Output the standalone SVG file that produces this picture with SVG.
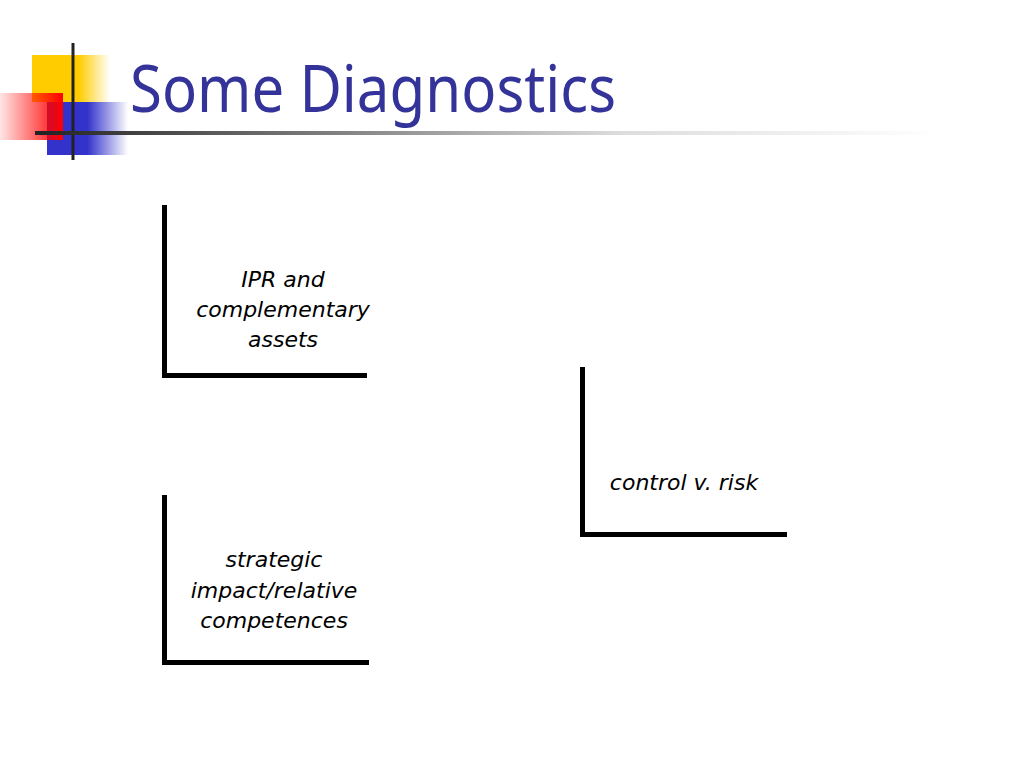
<svg xmlns="http://www.w3.org/2000/svg" width="1024" height="768" viewBox="0 0 1024 768">
<defs>
<linearGradient id="gY" x1="0" y1="0" x2="1" y2="0">
<stop offset="0" stop-color="#FFCC00"/><stop offset="0.6" stop-color="#FFCC00"/><stop offset="1" stop-color="#FFCC00" stop-opacity="0"/>
</linearGradient>
<linearGradient id="gB" x1="0" y1="0" x2="1" y2="0">
<stop offset="0" stop-color="#3333CC"/><stop offset="0.5" stop-color="#3333CC"/><stop offset="1" stop-color="#3333CC" stop-opacity="0"/>
</linearGradient>
<linearGradient id="gR" x1="0" y1="0" x2="1" y2="0">
<stop offset="0" stop-color="#FF0000" stop-opacity="0.1"/><stop offset="1" stop-color="#FF0000"/>
</linearGradient>
<linearGradient id="gL" gradientUnits="userSpaceOnUse" x1="35" y1="0" x2="940" y2="0">
<stop offset="0" stop-color="#222222"/><stop offset="0.3" stop-color="#777777"/><stop offset="0.65" stop-color="#DDDDDD"/><stop offset="1" stop-color="#FFFFFF"/>
</linearGradient>
<style>
.bar{stroke:#000;stroke-width:5;fill:none;stroke-linecap:square;stroke-linejoin:miter}
.lbl{font-family:"DejaVu Sans","Noto Sans",sans-serif;font-style:italic;font-size:22px;fill:#000;text-anchor:middle}
.title{font-family:"Noto Sans","DejaVu Sans",sans-serif;font-size:66px;fill:#333399}
</style>
</defs>
<rect width="1024" height="768" fill="#FFFFFF"/>
<g id="logo">
<rect x="32" y="55" width="78" height="47" fill="url(#gY)"/>
<rect x="47" y="102" width="81" height="53" fill="url(#gB)"/>
<rect x="0" y="93" width="63" height="47" fill="url(#gR)"/>
<line x1="73" y1="43" x2="73" y2="160" stroke="#222" stroke-width="3"/>
<line x1="35" y1="133" x2="940" y2="133" stroke="url(#gL)" stroke-width="4"/>
</g>
<text id="title" class="title" x="130" y="112" textLength="486" lengthAdjust="spacingAndGlyphs">Some Diagnostics</text>
<g id="connectors"></g>
<g id="node-ipr">
<path class="bar" d="M164.5,207.5 V375.5 H364.5"/>
<text class="lbl"><tspan x="283" y="287">IPR and</tspan><tspan x="283" y="317">complementary</tspan><tspan x="283" y="347">assets</tspan></text>
</g>
<g id="node-control">
<path class="bar" d="M582.5,369.5 V534.5 H784.5"/>
<text class="lbl" x="684" y="490">control v. risk</text>
</g>
<g id="node-strategic">
<path class="bar" d="M164.5,497.5 V662.5 H366.5"/>
<text class="lbl"><tspan x="274" y="567">strategic</tspan><tspan x="274" y="598">impact/relative</tspan><tspan x="274" y="628">competences</tspan></text>
</g>
</svg>
